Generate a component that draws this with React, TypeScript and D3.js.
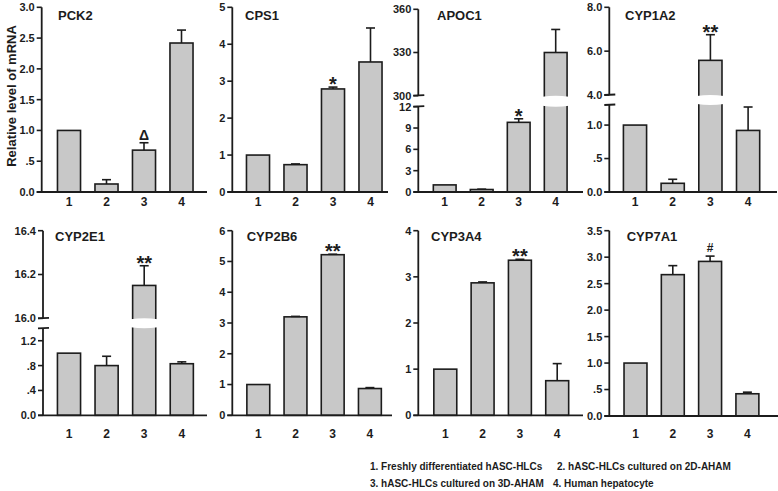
import React from "react";
import * as d3 from "d3";

// ---------- data ----------
const categories = ["1", "2", "3", "4"];
const genes = ["PCK2", "CPS1", "APOC1", "CYP1A2", "CYP2E1", "CYP2B6", "CYP3A4", "CYP7A1"];

const meanPCK2 = [1.0, 0.13, 0.68, 2.42];
const errPCK2 = [0, 0.07, 0.12, 0.21];
const meanCPS1 = [1.0, 0.74, 2.79, 3.52];
const errCPS1 = [0, 0.02, 0.05, 0.92];
const meanAPOC1 = [1.0, 0.35, 9.8, 330];
const errAPOC1 = [0, 0.05, 0.5, 16];
const meanCYP1A2 = [1.0, 0.13, 5.58, 0.92];
const errCYP1A2 = [0, 0.06, 1.17, 0.35];
const meanCYP2E1 = [1.0, 0.8, 16.15, 0.83];
const errCYP2E1 = [0, 0.15, 0.09, 0.03];
const meanCYP2B6 = [1.0, 3.2, 5.22, 0.87];
const errCYP2B6 = [0, 0.015, 0.015, 0.03];
const meanCYP3A4 = [1.0, 2.87, 3.36, 0.75];
const errCYP3A4 = [0, 0.02, 0.02, 0.37];
const meanCYP7A1 = [1.0, 2.67, 2.92, 0.42];
const errCYP7A1 = [0, 0.17, 0.1, 0.03];

const means = [meanPCK2, meanCPS1, meanAPOC1, meanCYP1A2, meanCYP2E1, meanCYP2B6, meanCYP3A4, meanCYP7A1];
const errs = [errPCK2, errCPS1, errAPOC1, errCYP1A2, errCYP2E1, errCYP2B6, errCYP3A4, errCYP7A1];

const sigMarks = ["Δ", "*", "*", "**", "**", "**", "**", "#"];
const sigCategory = "3";

// axis domains: lower segment, and upper segment for broken axes
const domainLower: number[][] = [[0, 3], [0, 5], [0, 12], [0, 1.3], [0, 1.4], [0, 6], [0, 4], [0, 3.5]];
const domainUpper: (number[] | null)[] = [null, null, [300, 360], [4, 8], [16, 16.4], null, null, null];
const ticksLower = [
  [0, 0.5, 1, 1.5, 2, 2.5, 3],
  [0, 1, 2, 3, 4, 5],
  [0, 3, 6, 9, 12],
  [0, 0.5, 1],
  [0, 0.4, 0.8, 1.2],
  [0, 1, 2, 3, 4, 5, 6],
  [0, 1, 2, 3, 4],
  [0, 0.5, 1, 1.5, 2, 2.5, 3, 3.5],
];
const ticksUpper: number[][] = [[], [], [300, 330, 360], [4, 6, 8], [16, 16.2, 16.4], [], [], []];
const tickDecimals = [1, 0, 0, 1, 1, 0, 0, 1];

const yTitle = "Relative level of mRNA";
const legendItems = [
  "1. Freshly differentiated hASC-HLCs",
  "2. hASC-HLCs cultured on 2D-AHAM",
  "3. hASC-HLCs cultured on 3D-AHAM",
  "4. Human hepatocyte",
];

// ---------- layout ----------
type Lay = {
  ax: number; end: number; top: number; bottom: number; c1: number; step: number;
  tx: number; ty: number; lblY: number; upperBottom?: number; lowerTop?: number;
};
const panelLayout: Lay[] = [
  { ax: 41.7, end: 207, top: 7.3, bottom: 192, c1: 69, step: 37.5, tx: 58, ty: 19.5, lblY: 206 },
  { ax: 232.3, end: 388, top: 7.3, bottom: 192, c1: 258, step: 37.5, tx: 245, ty: 19.5, lblY: 206 },
  { ax: 418.3, end: 583, top: 9.3, bottom: 192, c1: 444.7, step: 37, tx: 437, ty: 19.5, lblY: 206, upperBottom: 95.7, lowerTop: 106.7 },
  { ax: 609.3, end: 777, top: 7.3, bottom: 192, c1: 635, step: 37.7, tx: 625, ty: 19.5, lblY: 206, upperBottom: 95, lowerTop: 105 },
  { ax: 43, end: 207, top: 230.7, bottom: 415.3, c1: 69, step: 37.6, tx: 55, ty: 241, lblY: 438, upperBottom: 318.3, lowerTop: 328.3 },
  { ax: 232.3, end: 392, top: 230.7, bottom: 415.3, c1: 258.3, step: 37.2, tx: 246.7, ty: 241, lblY: 438 },
  { ax: 418.3, end: 583, top: 230.7, bottom: 415.3, c1: 445.3, step: 37.3, tx: 431, ty: 241, lblY: 438 },
  { ax: 609.3, end: 778, top: 230.7, bottom: 416, c1: 635.5, step: 37.3, tx: 626.7, ty: 241, lblY: 438 },
];

const FONT = "'Liberation Sans', Arial, Helvetica, sans-serif";
const BAR_FILL = "#c8c8c8";
const INK = "#1c1c1c";

function fmt(v: number, dec: number) {
  if (dec === 0) return String(v);
  if (v === 0) return "0.0";
  if (Math.abs(v) < 1) return v.toFixed(1).replace(/^0/, "");
  return v.toFixed(1);
}

function Panel({ i }: { i: number }) {
  const L = panelLayout[i];
  const broken = domainUpper[i] !== null;
  const lowerTopY = broken ? (L.lowerTop as number) : L.top;
  const yLow = d3.scaleLinear().domain(domainLower[i]).range([L.bottom, lowerTopY]);
  const yUp = broken
    ? d3.scaleLinear().domain(domainUpper[i] as number[]).range([L.upperBottom as number, L.top])
    : null;
  const y = (v: number) => {
    if (yUp && v > domainLower[i][1]) return yUp(v);
    return yLow(v);
  };
  const x = d3
    .scaleBand<string>()
    .domain(categories)
    .range([L.c1 - L.step / 2, L.c1 - L.step / 2 + L.step * categories.length])
    .paddingInner(0.385)
    .paddingOuter(0.1925);
  const bw = x.bandwidth();
  const m = means[i];
  const e = errs[i];
  const dec = tickDecimals[i];

  const elems: React.ReactNode[] = [];

  // bars
  categories.forEach((c, k) => {
    const x0 = x(c) as number;
    const yt = y(m[k]);
    elems.push(
      <rect key={"b" + k} x={x0} y={yt} width={bw} height={L.bottom - yt}
        fill={BAR_FILL} stroke={INK} strokeWidth={1.6} />
    );
    if (broken && yUp && m[k] > domainLower[i][1]) {
      const g0 = L.upperBottom as number;
      const g1 = L.lowerTop as number;
      const xl = x0 - 2, xr = x0 + bw + 2;
      const d = `M${xl},${g0 + 1} Q${(xl + xr) / 2},${g0 - 1} ${xr},${g0 + 1} L${xr},${g1 - 1} Q${(xl + xr) / 2},${g1 + 1} ${xl},${g1 - 1} Z`;
      elems.push(<path key={"gap" + k} d={d} fill="#fff" stroke="none" />);
    }
    if (e[k] > 0) {
      const ye = y(m[k] + e[k]);
      const cx = x0 + bw / 2;
      elems.push(
        <g key={"e" + k} stroke={INK} strokeWidth={1.6}>
          <line x1={cx} x2={cx} y1={yt} y2={ye} />
          <line x1={cx - 4.5} x2={cx + 4.5} y1={ye} y2={ye} />
        </g>
      );
    }
  });

  // significance mark
  {
    const k = categories.indexOf(sigCategory);
    const cx = (x(sigCategory) as number) + bw / 2;
    const ye = y(m[k] + e[k]);
    const mark = sigMarks[i];
    let fs = 20, yy = ye + 4;
    if (mark === "Δ") { fs = 14; yy = ye - 3; }
    if (mark === "#") { fs = 12; yy = ye - 4.5; }
    elems.push(
      <text key="sig" x={cx} y={yy} textAnchor="middle" fontSize={fs} fontWeight="bold"
        fontFamily={FONT} fill={INK}>{mark}</text>
    );
  }

  // y axis
  const axisParts: React.ReactNode[] = [];
  if (broken) {
    axisParts.push(<line key="ya1" x1={L.ax} x2={L.ax} y1={L.top} y2={L.upperBottom} />);
    axisParts.push(<line key="ya2" x1={L.ax} x2={L.ax} y1={L.lowerTop} y2={L.bottom} />);
    axisParts.push(<line key="bk1" x1={L.ax - 5} x2={L.ax + 6} y1={(L.upperBottom as number)} y2={(L.upperBottom as number) - 0.5} />);
    axisParts.push(<line key="bk2" x1={L.ax - 5} x2={L.ax + 6} y1={(L.lowerTop as number)} y2={(L.lowerTop as number) - 0.5} />);
  } else {
    axisParts.push(<line key="ya" x1={L.ax} x2={L.ax} y1={L.top} y2={L.bottom} />);
  }
  axisParts.push(<line key="xa" x1={L.ax - 5} x2={L.end} y1={L.bottom} y2={L.bottom} />);

  const tickEls: React.ReactNode[] = [];
  ticksLower[i].forEach((t, k) => {
    const ty = yLow(t);
    tickEls.push(<line key={"tl" + k} x1={L.ax - 5} x2={L.ax} y1={ty} y2={ty} stroke={INK} strokeWidth={1.6} />);
    tickEls.push(
      <text key={"tt" + k} x={L.ax - 7} y={ty} dy="0.36em" textAnchor="end" fontSize={11}
        fontWeight="bold" fontFamily={FONT} fill={INK}>{fmt(t, dec)}</text>
    );
  });
  if (yUp) {
    ticksUpper[i].forEach((t, k) => {
      const ty = yUp(t);
      tickEls.push(<line key={"ul" + k} x1={L.ax - 5} x2={L.ax} y1={ty} y2={ty} stroke={INK} strokeWidth={1.6} />);
      tickEls.push(
        <text key={"ut" + k} x={L.ax - 7} y={ty} dy="0.36em" textAnchor="end" fontSize={11}
          fontWeight="bold" fontFamily={FONT} fill={INK}>{fmt(t, dec)}</text>
      );
    });
  }

  return (
    <g>
      {elems}
      <g stroke={INK} strokeWidth={1.8}>{axisParts}</g>
      {tickEls}
      {categories.map((c) => (
        <text key={"xl" + c} x={(x(c) as number) + bw / 2} y={L.lblY} textAnchor="middle"
          fontSize={12} fontWeight="bold" fontFamily={FONT} fill={INK}>{c}</text>
      ))}
      <text x={L.tx} y={L.ty} fontSize={13} fontWeight="bold" fontFamily={FONT} fill={INK}>{genes[i]}</text>
    </g>
  );
}

export default function App() {
  return (
    <svg width={778} height={491} viewBox="0 0 778 491"
      style={{ position: "absolute", left: 0, top: 0, background: "#fff" }}>
      <rect x={0} y={0} width={778} height={491} fill="#fff" />
      {genes.map((g, i) => <Panel key={g} i={i} />)}
      <text transform="translate(16,96) rotate(-90)" textAnchor="middle" fontSize={13}
        fontWeight="bold" fontFamily={FONT} fill={INK}>{yTitle}</text>
      <text x={370} y={470} fontSize={10} fontWeight="bold" fontFamily={FONT} fill={INK}>{legendItems[0]}</text>
      <text x={557} y={470} fontSize={10} fontWeight="bold" fontFamily={FONT} fill={INK}>{legendItems[1]}</text>
      <text x={370} y={487} fontSize={10} fontWeight="bold" fontFamily={FONT} fill={INK}>{legendItems[2]}</text>
      <text x={553} y={487} fontSize={10} fontWeight="bold" fontFamily={FONT} fill={INK}>{legendItems[3]}</text>
    </svg>
  );
}
